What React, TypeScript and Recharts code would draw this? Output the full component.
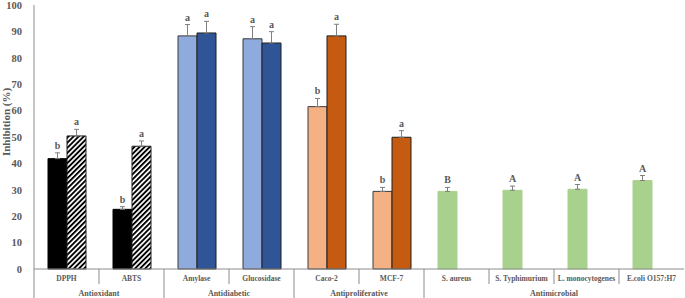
import { BarChart, Bar, XAxis, YAxis, ErrorBar, LabelList, Cell } from "recharts";

const categories = [
  "DPPH",
  "ABTS",
  "Amylase",
  "Glucosidase",
  "Caco-2",
  "MCF-7",
  "S. aureus",
  "S. Typhimurium",
  "L. monocytogenes",
  "E.coli O157:H7",
];
const groupNames = ["Antioxidant", "Antidiabetic", "Antiproliferative", "Antimicrobial"];
const groupSizes = [2, 2, 2, 4];

// first bar of each pair
const seriesA = [41.8, 22.6, 88.3, 87.2, 61.5, 29.4, 29.4, 29.8, 30.2, 33.5];
const errorsA = [2.2, 1.0, 4.3, 4.6, 3.1, 1.5, 1.5, 1.6, 1.8, 1.9];
const lettersA = ["b", "b", "a", "a", "b", "b", "B", "A", "A", "A"];

// second bar (no second bar for antimicrobial)
const seriesB = [50.4, 46.5, 89.4, 85.6, 88.3, 49.9, null, null, null, null];
const errorsB = [2.5, 2.0, 4.4, 4.3, 4.4, 2.5, null, null, null, null];
const lettersB = ["a", "a", "a", "a", "a", "a", "", "", "", ""];

const yTicks = [0, 10, 20, 30, 40, 50, 60, 70, 80, 90, 100];

const FILL_A = ["#000000", "#000000", "#8FAADC", "#8FAADC", "#F4B183", "#F4B183", "#A9D18E", "#A9D18E", "#A9D18E", "#A9D18E"];
const FILL_B = ["url(#hatch)", "url(#hatch)", "#2F5597", "#2F5597", "#C55A11", "#C55A11", "none", "none", "none", "none"];
const STROKE_A = ["#000000", "#000000", "#3a3a3a", "#3a3a3a", "#3a3a3a", "#3a3a3a", "#A9D18E", "#A9D18E", "#A9D18E", "#A9D18E"];

const FONT = "'Liberation Serif', 'Times New Roman', serif";
const TEXT = "#595959";
const AXIS = "#8c8c8c";

const data = categories.map((name, i) => ({
  name,
  a: seriesA[i],
  b: seriesB[i],
  errA: [0, errorsA[i]],
  errB: errorsB[i] == null ? null : [0, errorsB[i]],
}));

const groupStart: number[] = [];
const groupEnd: number[] = [];
{
  let s = 0;
  groupSizes.forEach((n) => {
    groupStart.push(s);
    groupEnd.push(s + n - 1);
    s += n;
  });
}

function CategoryTick(props: any) {
  const { x, y, payload } = props;
  const i = payload.index;
  const half = payload.offset || 32.5;
  const g = groupStart.indexOf(i);
  const isEnd = groupEnd.includes(i);
  const isLast = i === categories.length - 1;
  return (
    <g>
      {i === 0 && <line x1={x - half} x2={x - half} y1={y} y2={y + 29} stroke={AXIS} />}
      {!isLast && (
        <line x1={x + half} x2={x + half} y1={y} y2={y + (isEnd ? 29 : 15)} stroke={AXIS} />
      )}
      <text x={x} y={y + 11.5} textAnchor="middle" fontFamily={FONT} fontWeight="bold" fontSize={7.5} fill={TEXT}>
        {payload.value}
      </text>
      {g >= 0 && (
        <text
          x={x - half + groupSizes[g] * half}
          y={y + 26.5}
          textAnchor="middle"
          fontFamily={FONT}
          fontWeight="bold"
          fontSize={8}
          fill={TEXT}
        >
          {groupNames[g]}
        </text>
      )}
    </g>
  );
}

const letterLabel = (letters: string[], errs: (number | null)[]) => (props: any) => {
  const vb = props.viewBox ?? props;
  const { x, y, width, height } = vb;
  const { index, value } = props;
  if (!letters[index] || value == null || !value) return null;
  const pxPerUnit = height / value;
  const top = y - (errs[index] ?? 0) * pxPerUnit;
  return (
    <text x={x + width / 2} y={top - 4} textAnchor="middle" fontFamily={FONT} fontWeight="bold" fontSize={10} fill={TEXT}>
      {letters[index]}
    </text>
  );
};

export default function App() {
  return (
    <div style={{ position: "absolute", left: 0, top: 0, background: "#fff" }}>
      <BarChart
        width={685}
        height={298}
        data={data}
        margin={{ top: 5, right: 1, bottom: 0, left: 0 }}
        barGap={0}
        barSize={19}
      >
        <defs>
          <pattern id="hatch" width={3.6} height={3.6} patternUnits="userSpaceOnUse" patternTransform="rotate(45)">
            <rect x={0} y={0} width={3.6} height={3.6} fill="#ffffff" />
            <rect x={0} y={0} width={1.9} height={3.6} fill="#000000" />
          </pattern>
        </defs>
        <XAxis
          dataKey="name"
          interval={0}
          height={29}
          tickLine={false}
          tickSize={0}
          tickMargin={0}
          axisLine={{ stroke: AXIS }}
          tick={<CategoryTick />}
        />
        <YAxis
          domain={[0, 100]}
          ticks={yTicks}
          width={34}
          tickLine={false}
          axisLine={{ stroke: AXIS }}
          tickMargin={6}
          tick={{ fontFamily: FONT, fontWeight: "bold", fontSize: 10.5, fill: TEXT }}
          label={{
            content: () => (
              <text
                transform="translate(9.5, 122) rotate(-90)"
                textAnchor="middle"
                fontFamily={FONT}
                fontWeight="bold"
                fontSize={11}
                fill={TEXT}
              >
                Inhibition (%)
              </text>
            ),
          }}
        />
        <Bar dataKey="a" isAnimationActive={false}>
          {data.map((_, i) => (
            <Cell key={i} fill={FILL_A[i]} stroke={STROKE_A[i]} strokeWidth={1} />
          ))}
          <ErrorBar dataKey="errA" width={2.5} stroke="#7f7f7f" strokeWidth={1} />
          <LabelList dataKey="a" content={letterLabel(lettersA, errorsA)} />
        </Bar>
        <Bar dataKey="b" isAnimationActive={false}>
          {data.map((_, i) => (
            <Cell key={i} fill={FILL_B[i]} stroke="#1f1f1f" strokeWidth={1} />
          ))}
          <ErrorBar dataKey="errB" width={2.5} stroke="#7f7f7f" strokeWidth={1} />
          <LabelList dataKey="b" content={letterLabel(lettersB, errorsB)} />
        </Bar>
      </BarChart>
    </div>
  );
}
